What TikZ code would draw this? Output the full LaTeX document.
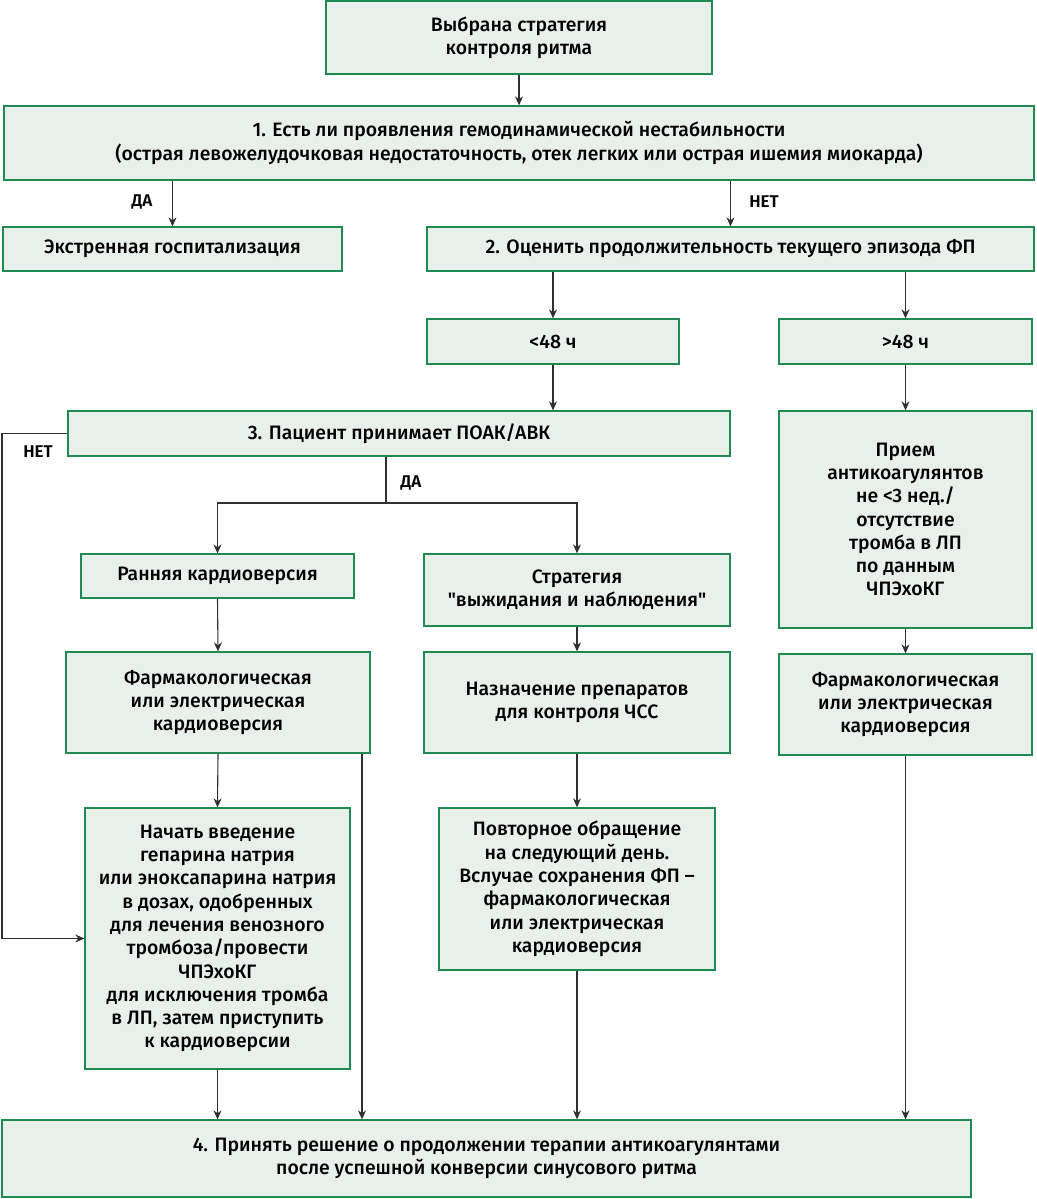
\documentclass[tikz,border=0pt]{standalone}
\usepackage{fontspec}
\setmainfont{Fira Sans}[UprightFont={* Medium},BoldFont={* SemiBold}]
\usetikzlibrary{arrows.meta}
\definecolor{boxline}{HTML}{1E8A50}
\definecolor{boxfill}{HTML}{E7F0EA}
\definecolor{conn}{HTML}{303030}
\tikzset{
  box/.style={draw=boxline,fill=boxfill,line width=1.3pt,align=center,inner sep=0pt,
    font=\fontsize{19.4}{23.3}\selectfont},
  arr/.style={draw=conn,line width=1.1pt,-{Stealth[length=9pt,width=8pt]}},
  ln/.style={draw=conn,line width=1.1pt},
  lbl/.style={font=\fontsize{17}{19}\selectfont\bfseries,inner sep=0pt}
}
\begin{document}
\begin{tikzpicture}[x=1pt,y=-1pt]
\useasboundingbox (0,0) rectangle (1036,1199);
\node[box,minimum width=386,minimum height=73] (top) at (519,37.5) {Выбрана стратегия\\контроля ритма};
\node[box,minimum width=1030,minimum height=74] (b1) at (519,143) {1. Есть ли проявления гемодинамической нестабильности\\(острая левожелудочковая недостаточность, отек легких или острая ишемия миокарда)};
\node[box,minimum width=339,minimum height=44] (ekstr) at (172.5,249) {Экстренная госпитализация};
\node[box,minimum width=607,minimum height=44] (b2) at (730.5,249) {2. Оценить продолжительность текущего эпизода ФП};
\node[box,minimum width=252,minimum height=45] (lt) at (553,341.5) {<48 ч};
\node[box,minimum width=253,minimum height=45] (gt) at (905.5,341.5) {>48 ч};
\node[box,minimum width=662,minimum height=45] (b3) at (399,433.5) {3. Пациент принимает ПОАК/АВК};
\node[box,minimum width=253,minimum height=217] (priem) at (905.5,519.5) {Прием\\антикоагулянтов\\не <3 нед./\\отсутствие\\тромба в ЛП\\по данным\\ЧПЭхоКГ};
\node[box,minimum width=273,minimum height=44] (rann) at (217.5,576) {Ранняя кардиоверсия};
\node[box,minimum width=306,minimum height=72] (strat) at (577,590) {Стратегия\\\textquotedbl выжидания и наблюдения\textquotedbl};
\node[box,minimum width=304,minimum height=101] (farmL) at (218,702.5) {Фармакологическая\\или электрическая\\кардиоверсия};
\node[box,minimum width=306,minimum height=101] (nazn) at (577,702.5) {Назначение препаратов\\для контроля ЧСС};
\node[box,minimum width=253,minimum height=101] (farmR) at (905.5,704.5) {Фармакологическая\\или электрическая\\кардиоверсия};
\node[box,minimum width=265,minimum height=261] (nachat) at (217.5,938.5) {Начать введение\\гепарина натрия\\или эноксапарина натрия\\в дозах, одобренных\\для лечения венозного\\тромбоза/провести\\ЧПЭхоКГ\\для исключения тромба\\в ЛП, затем приступить\\к кардиоверсии};
\node[box,minimum width=276,minimum height=162] (povt) at (577,889) {Повторное обращение\\на следующий день.\\Вслучае сохранения ФП –\\фармакологическая\\или электрическая\\кардиоверсия};
\node[box,minimum width=969,minimum height=77] (b4) at (486.5,1158.5) {4. Принять решение о продолжении терапии антикоагулянтами\\после успешной конверсии синусового ритма};
% coordinates
\coordinate (br) at (386,503);
\coordinate (netc) at (2,433.5);
\coordinate (flx) at (362,0);
% connectors
\draw[arr] (top.south) -- (b1.north);
\draw[arr] (b1.south -| ekstr.north) -- (ekstr.north);
\draw[arr] (b1.south -| b2.north) -- (b2.north);
\draw[arr] (b2.south -| lt.north) -- (lt.north);
\draw[arr] (b2.south -| gt.north) -- (gt.north);
\draw[arr] (lt.south) -- (lt.south |- b3.north);
\draw[arr] (gt.south) -- (priem.north);
\draw[ln] (b3.south -| br) -- (br);
\draw[arr] (br) -| (rann.north);
\draw[arr] (br) -| (strat.north);
\draw[arr] (b3.west) -- (netc) |- (nachat.west);
\draw[arr] (rann.south) -- (farmL.north);
\draw[arr] (farmL.south) -- (nachat.north);
\draw[arr] (farmL.south -| flx) -- (b4.north -| flx);
\draw[arr] (nachat.south) -- (nachat.south |- b4.north);
\draw[arr] (strat.south) -- (nazn.north);
\draw[arr] (nazn.south) -- (povt.north);
\draw[arr] (povt.south) -- (povt.south |- b4.north);
\draw[arr] (priem.south) -- (farmR.north);
\draw[arr] (farmR.south) -- (farmR.south |- b4.north);
% labels
\node[lbl] (l1) at (142,202) {ДА};
\node[lbl] (l2) at (764,202) {НЕТ};
\node[lbl] (l3) at (411,483) {ДА};
\node[lbl] (l4) at (38,452) {НЕТ};
\end{tikzpicture}
\end{document}
